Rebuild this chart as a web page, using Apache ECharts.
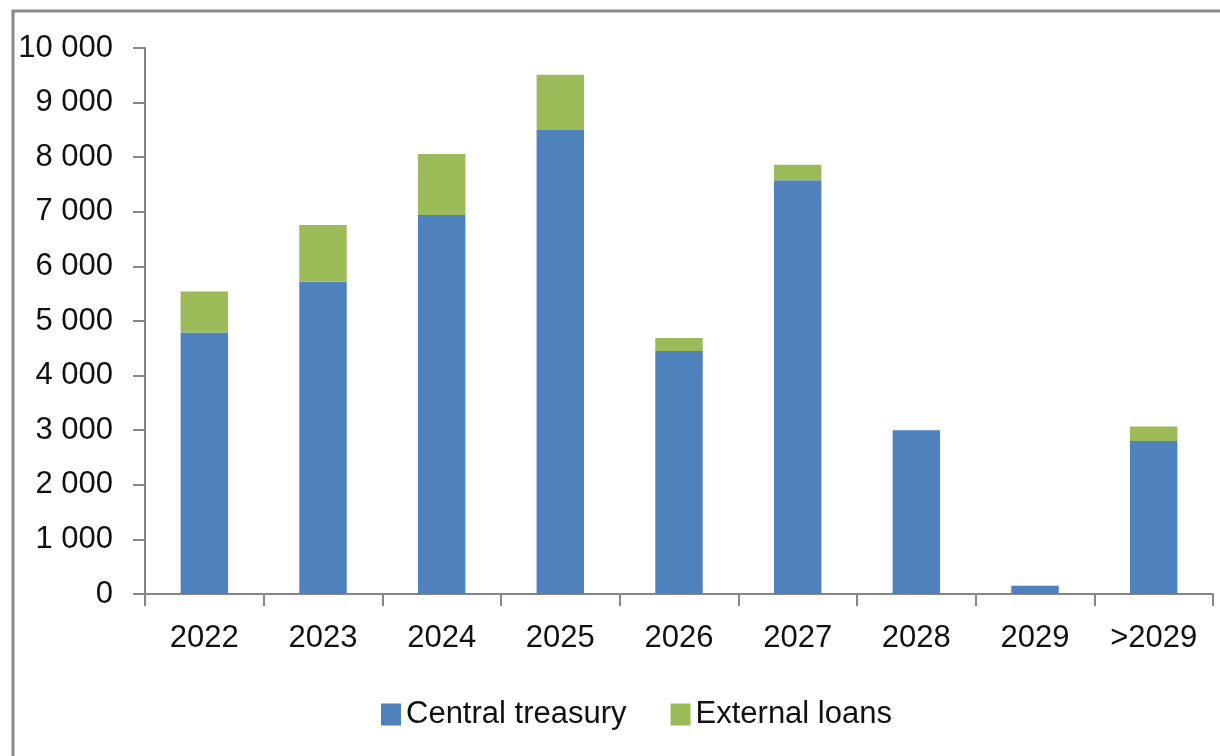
<!DOCTYPE html>
<html>
<head>
<meta charset="utf-8">
<script src="https://cdn.jsdelivr.net/npm/echarts@6/dist/echarts.min.js"></script>
<style>
html,body{margin:0;padding:0;background:#fff;}
#chart{width:1220px;height:756px;}
</style>
</head>
<body>
<div id="chart"></div>
<script>
const categories = ['2022','2023','2024','2025','2026','2027','2028','2029','>2029'];
const centralTreasury = [4790, 5720, 6940, 8500, 4450, 7580, 3000, 150, 2800];
const externalLoans = [750, 1040, 1120, 1010, 240, 280, 0, 0, 270];
const yTicks = {min: 0, max: 10000, interval: 1000};

const chart = echarts.init(document.getElementById('chart'));
const font = 'Liberation Sans, Arial, sans-serif';
const axisGray = '#868686';
chart.setOption({
  animation: false,
  backgroundColor: '#fff',
  graphic: [{
    type: 'rect',
    shape: {x: 13, y: 11, width: 1400, height: 1000},
    style: {fill: 'none', stroke: '#888888', lineWidth: 3},
    silent: true
  }],
  grid: {left: 145, right: 7, top: 48, bottom: 162, containLabel: false},
  legend: {
    data: ['Central treasury', 'External loans'],
    top: 694,
    left: 376,
    icon: 'rect',
    itemWidth: 20,
    itemHeight: 22,
    itemGap: 44,
    textStyle: {fontFamily: font, fontSize: 31, color: '#111'}
  },
  xAxis: {
    type: 'category',
    data: categories,
    axisLine: {lineStyle: {color: axisGray, width: 2}},
    axisTick: {show: true, length: 12, alignWithLabel: false, lineStyle: {color: axisGray, width: 2}},
    axisLabel: {fontFamily: font, fontSize: 31, color: '#111', margin: 29, interval: 0}
  },
  yAxis: {
    type: 'value',
    min: yTicks.min,
    max: yTicks.max,
    interval: yTicks.interval,
    splitLine: {show: false},
    axisLine: {show: true, lineStyle: {color: axisGray, width: 2}},
    axisTick: {show: true, length: 12, lineStyle: {color: axisGray, width: 2}},
    axisLabel: {
      fontFamily: font, fontSize: 31, color: '#111', margin: 32,
      formatter: v => String(v).replace(/\B(?=(\d{3})+(?!\d))/g, ' ')
    }
  },
  series: [
    {
      name: 'Central treasury', type: 'bar', stack: 'total',
      data: centralTreasury, barWidth: '40%',
      itemStyle: {color: '#4F81BD'}
    },
    {
      name: 'External loans', type: 'bar', stack: 'total',
      data: externalLoans, barWidth: '40%',
      itemStyle: {color: '#9BBB59'}
    }
  ]
});
</script>
</body>
</html>
